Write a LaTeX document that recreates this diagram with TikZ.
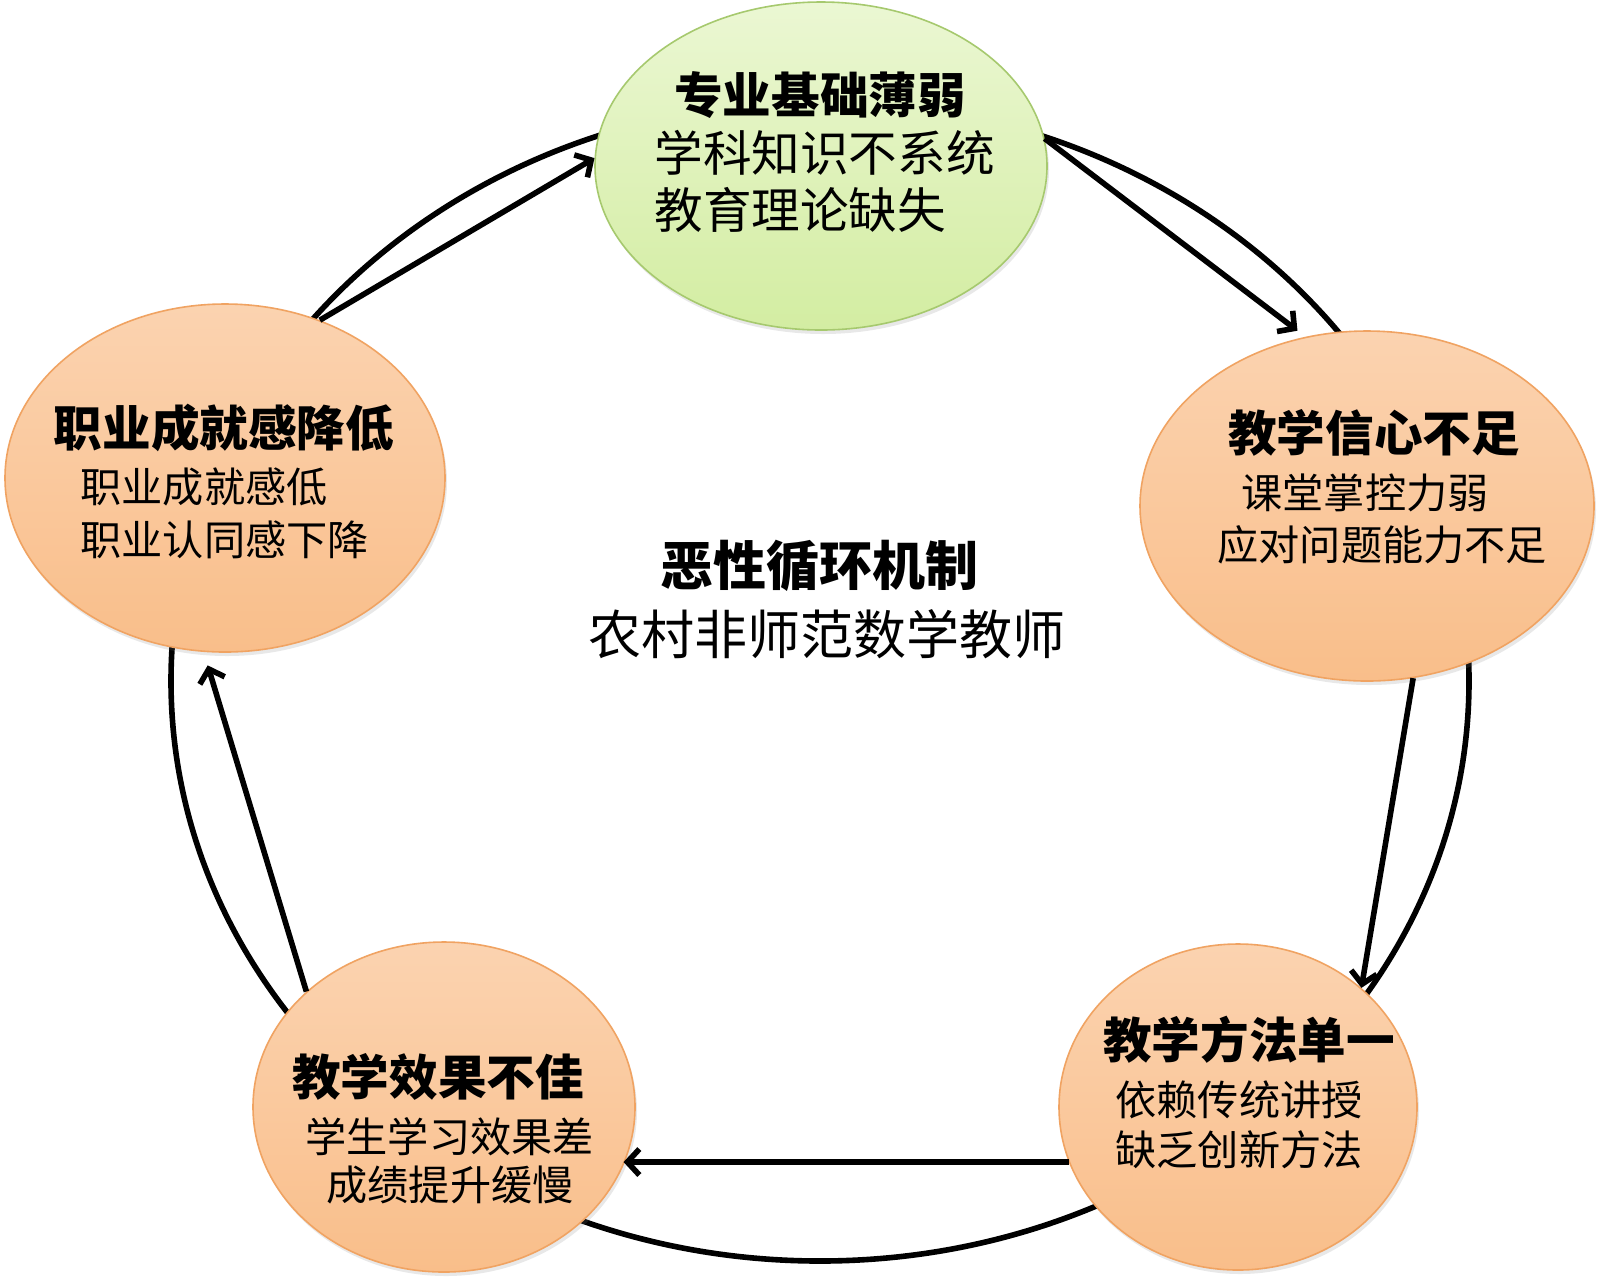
\documentclass[tikz,border=0pt]{standalone}
\usepackage{fontspec}
\setmainfont{Noto Sans CJK SC}
\usetikzlibrary{shapes.geometric,arrows.meta,shadows}
\definecolor{grnT}{HTML}{EBF7D3}
\definecolor{grnD}{HTML}{D3EDA2}
\definecolor{grnB}{HTML}{A6C96E}
\definecolor{orgT}{HTML}{FBD3B0}
\definecolor{orgD}{HTML}{F9BE8A}
\definecolor{orgB}{HTML}{F0A362}
\begin{document}
\begin{tikzpicture}[x=0.5pt,y=-0.5pt,
  blob/.style={ellipse, inner sep=0pt, line width=0.8pt,
    drop shadow={opacity=0.18, shadow xshift=1pt, shadow yshift=-2pt}},
  greenblob/.style={blob, draw=grnB, top color=grnT, bottom color=grnD},
  orangeblob/.style={blob, draw=orgB, top color=orgT, bottom color=orgD},
  ttl/.style={inner sep=0pt, font=\fontsize{24.3pt}{29pt}\selectfont\bfseries},
  bigtxt/.style={inner sep=0pt, font=\fontsize{24.3pt}{29pt}\selectfont},
  subtxt/.style={inner sep=0pt, font=\fontsize{20.6pt}{25pt}\selectfont},
  ctrb/.style={inner sep=0pt, font=\fontsize{26.5pt}{32pt}\selectfont\bfseries},
  ctrn/.style={inner sep=0pt, font=\fontsize{26.5pt}{32pt}\selectfont},
  flow/.style={line width=2.8pt, -{Straight Barb[length=6pt,width=13pt]}},
]
\useasboundingbox[fill=white] (0,0) rectangle (1600,1282);

% background cycle
\node[ellipse, draw, line width=2.8pt, inner sep=0pt,
      minimum width=649pt, minimum height=580pt] (cyc) at (820,681) {};

% ellipses
\node[greenblob, minimum width=226pt, minimum height=164pt] (T) at (821,166) {};
\node[orangeblob, minimum width=227pt, minimum height=175pt] (R) at (1367,506) {};
\node[orangeblob, minimum width=179pt, minimum height=163pt] (BR) at (1238,1107) {};
\node[orangeblob, minimum width=191pt, minimum height=165pt] (BL) at (444,1107) {};
\node[orangeblob, minimum width=220pt, minimum height=174pt] (L) at (225,478) {};

% arrows
\draw[flow] (L.59) -- (T.178);
\draw[flow, shorten >=5pt] (T.7) -- (R.110);
\draw[flow] (R.285) -- (BR.44);
\draw[flow] (BR.198) -- (BR.198 -| BL.342);
\draw[flow, shorten >=7pt] (BL.140) -- (L.263);

% texts: top
\node[ttl] (Tt) at (820,95) {专业基础薄弱};
\node[bigtxt, anchor=west] (T1) at (654,153) {学科知识不系统};
\node[bigtxt, anchor=west] (T2) at (654,210) {教育理论缺失};
% right
\node[ttl] (Rt) at (1374,433) {教学信心不足};
\node[subtxt, anchor=west] (R1) at (1241,493) {课堂掌控力弱};
\node[subtxt, anchor=west] (R2) at (1217,545) {应对问题能力不足};
% bottom right
\node[ttl] (Bt) at (1249,1040) {教学方法单一};
\node[subtxt, anchor=west] (B1) at (1115,1100) {依赖传统讲授};
\node[subtxt, anchor=west] (B2) at (1115,1150) {缺乏创新方法};
% bottom left
\node[ttl] (Lt) at (438,1077) {教学效果不佳};
\node[subtxt, anchor=west] (L1) at (305,1137) {学生学习效果差};
\node[subtxt, anchor=west] (L2) at (326,1185) {成绩提升缓慢};
% left
\node[ttl] (Kt) at (224,428) {职业成就感降低};
\node[subtxt, anchor=west] (K1) at (80,487) {职业成就感低};
\node[subtxt, anchor=west] (K2) at (80,540) {职业认同感下降};
% centre
\node[ctrb] (Ct) at (819,566) {恶性循环机制};
\node[ctrn] (C1) at (827,634) {农村非师范数学教师};
\end{tikzpicture}
\end{document}
